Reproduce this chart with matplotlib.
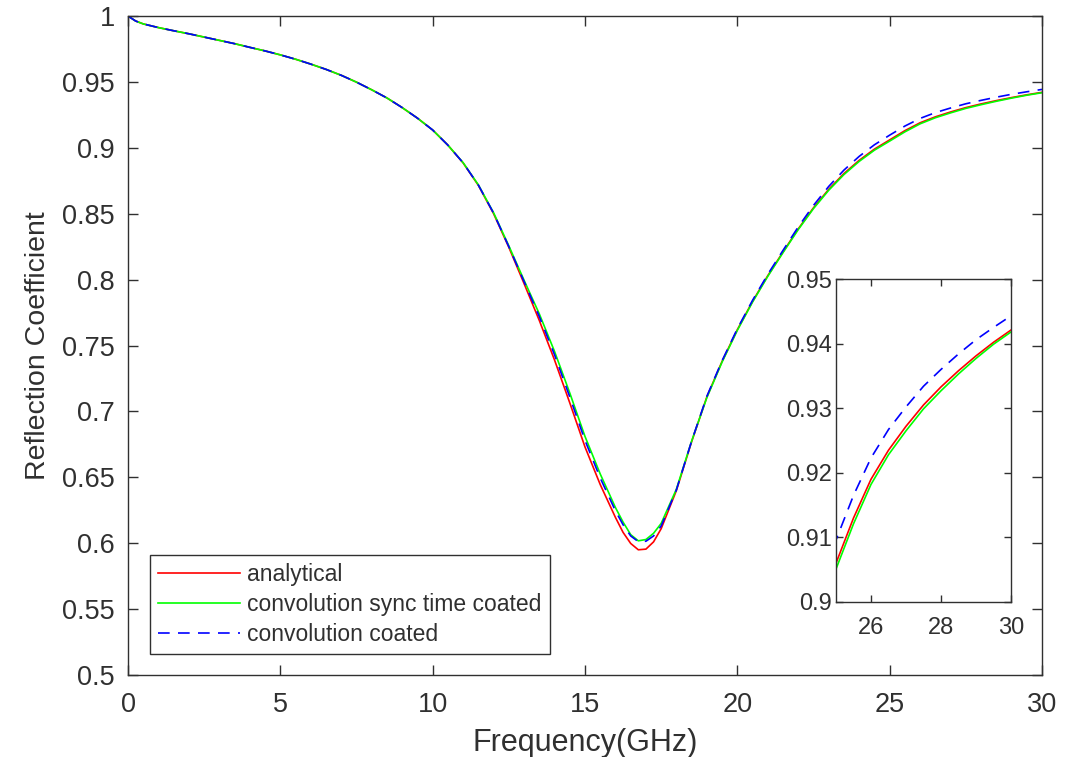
import matplotlib
matplotlib.use("Agg")
import matplotlib.pyplot as plt
from matplotlib.ticker import FuncFormatter

plt.rcParams['font.family'] = ['Liberation Sans', 'DejaVu Sans']

freq = [0, 0.25, 0.5, 1, 1.5, 2, 2.5, 3, 3.5, 4, 4.5, 5, 5.5, 6, 6.5, 7, 7.5, 8, 8.5, 9,
        9.5, 10, 10.5, 11, 11.5, 12, 12.5, 13, 13.5, 14, 14.5, 15, 15.5, 16, 16.25, 16.5,
        16.75, 17, 17.25, 17.5, 18, 18.5, 19, 19.5, 20, 20.5, 21, 21.5, 22, 22.5, 23, 23.5,
        24, 24.5, 25, 25.5, 26, 26.5, 27, 27.5, 28, 28.5, 29, 29.5, 30]

analytical = [1.0000, 0.9962, 0.9940, 0.9912, 0.9888, 0.9865, 0.9840, 0.9815, 0.9790, 0.9762,
              0.9735, 0.9705, 0.9672, 0.9635, 0.9595, 0.9550, 0.9498, 0.9440, 0.9378, 0.9305,
              0.9225, 0.9135, 0.9020, 0.8885, 0.8715, 0.8500, 0.8245, 0.7970, 0.7690, 0.7390,
              0.7065, 0.6730, 0.6445, 0.6195, 0.6082, 0.5998, 0.5950, 0.5955, 0.6010, 0.6110,
              0.6400, 0.6770, 0.7110, 0.7380, 0.7620, 0.7835, 0.8030, 0.8210, 0.8385, 0.8545,
              0.8685, 0.8805, 0.8905, 0.8990, 0.9060, 0.9130, 0.9190, 0.9235, 0.9272, 0.9305,
              0.9333, 0.9358, 0.9381, 0.9402, 0.9421]

conv_sync = [1.0000, 0.9962, 0.9940, 0.9912, 0.9888, 0.9865, 0.9840, 0.9815, 0.9790, 0.9762,
             0.9735, 0.9705, 0.9672, 0.9635, 0.9595, 0.9550, 0.9498, 0.9440, 0.9378, 0.9305,
             0.9225, 0.9135, 0.9020, 0.8887, 0.8719, 0.8507, 0.8256, 0.7995, 0.7740, 0.7455,
             0.7140, 0.6810, 0.6525, 0.6270, 0.6160, 0.6065, 0.6018, 0.6028, 0.6075, 0.6150,
             0.6410, 0.6775, 0.7105, 0.7375, 0.7615, 0.7830, 0.8025, 0.8205, 0.8380, 0.8539,
             0.8678, 0.8797, 0.8897, 0.8982, 0.9051, 0.9121, 0.9182, 0.9228, 0.9265, 0.9299,
             0.9327, 0.9353, 0.9377, 0.9399, 0.9418]

conv_coated = [1.0000, 0.9962, 0.9940, 0.9912, 0.9888, 0.9865, 0.9840, 0.9815, 0.9790, 0.9762,
               0.9735, 0.9705, 0.9672, 0.9635, 0.9595, 0.9550, 0.9498, 0.9440, 0.9378, 0.9305,
               0.9225, 0.9135, 0.9020, 0.8886, 0.8717, 0.8504, 0.8250, 0.7985, 0.7720, 0.7430,
               0.7110, 0.6780, 0.6495, 0.6245, 0.6140, 0.6055, 0.6012, 0.6015, 0.6055, 0.6130,
               0.6405, 0.6775, 0.7115, 0.7385, 0.7627, 0.7843, 0.8040, 0.8222, 0.8400, 0.8563,
               0.8707, 0.8831, 0.8935, 0.9023, 0.9096, 0.9165, 0.9223, 0.9267, 0.9302, 0.9334,
               0.9360, 0.9384, 0.9406, 0.9425, 0.9443]

labels = ["analytical", "convolution sync time coated", "convolution coated"]
main_xticks = [0, 5, 10, 15, 20, 25, 30]
main_yticks = [0.5, 0.55, 0.6, 0.65, 0.7, 0.75, 0.8, 0.85, 0.9, 0.95, 1.0]
inset_xticks = [26, 28, 30]
inset_yticks = [0.9, 0.91, 0.92, 0.93, 0.94, 0.95]

TXT = '#303030'
fmt = FuncFormatter(lambda v, p: f"{v:g}")

fig = plt.figure(figsize=(10.66, 7.57), dpi=100)
ax = fig.add_axes([128/1066, 82/757, 914/1066, 659/757])

def style(a, fs, padx, pady, tl):
    for s in a.spines.values():
        s.set_color(TXT)
        s.set_linewidth(1.0)
    a.tick_params(direction='in', top=True, right=True, length=tl, width=1.0,
                  colors=TXT, labelsize=fs)
    a.tick_params(axis='x', pad=padx)
    a.tick_params(axis='y', pad=pady)
    a.xaxis.set_major_formatter(fmt)
    a.yaxis.set_major_formatter(fmt)

def draw(a):
    a.plot(freq, analytical, color='#ff0000', lw=1.2, label=labels[0])
    a.plot(freq, conv_sync, color='#00ff00', lw=1.2, label=labels[1])
    a.plot(freq, conv_coated, color='#0000ff', lw=1.2, ls=(0, (7, 5)), label=labels[2])

draw(ax)
ax.set_xlim(0, 30)
ax.set_ylim(0.5, 1.0)
ax.set_xticks(main_xticks)
ax.set_yticks(main_yticks)
style(ax, 19.5, 12.5, 9.5, 7)
ax.set_xlabel("Frequency(GHz)", fontsize=22, color=TXT, labelpad=7)
ax.set_ylabel("Reflection Coefficient", fontsize=20.5, color=TXT, labelpad=8)

leg = ax.legend(loc='lower left', bbox_to_anchor=(0.024, 0.032), borderaxespad=0,
                fontsize=16.5, fancybox=False, framealpha=1, edgecolor=TXT,
                handlelength=3.6, handletextpad=0.3, labelspacing=0.3,
                borderpad=0.35)
leg.get_frame().set_linewidth(1.0)
for t in leg.get_texts():
    t.set_color(TXT)

axin = fig.add_axes([836/1066, 155/757, 175/1066, 323/757])
draw(axin)
axin.set_xlim(25, 30)
axin.set_ylim(0.9, 0.95)
axin.set_xticks(inset_xticks)
axin.set_yticks(inset_yticks)
style(axin, 17, 11, 3, 5)

fig.savefig("out.png", dpi=100, facecolor='white')
